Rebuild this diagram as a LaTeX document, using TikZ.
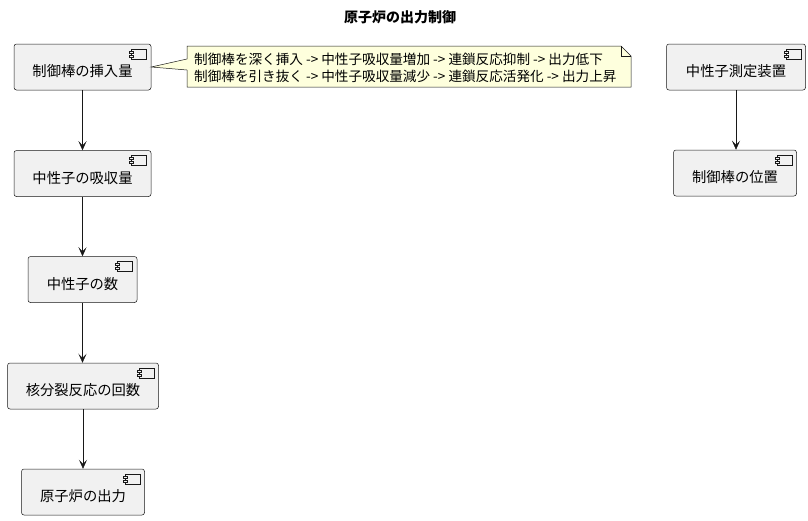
\documentclass[tikz,border=0pt]{standalone}
\usepackage{fontspec}
\setmainfont{Noto Sans CJK JP}
\usetikzlibrary{arrows.meta}
\definecolor{edge}{HTML}{181818}
\definecolor{compfill}{HTML}{F1F1F1}
\definecolor{notefill}{HTML}{FEFFDD}
\tikzset{
  comp/.style={draw=edge, fill=compfill, line width=0.5pt, rounded corners=2.5pt,
    minimum height=46pt, inner sep=0pt, text height=21pt, text depth=2pt,
    font=\fontsize{14.3}{16}\selectfont},
  arr/.style={draw=edge, line width=0.5pt, -{Stealth[length=9pt,width=8pt,inset=4pt]}},
  cicon/.pic={
    \draw[edge, fill=compfill, line width=0.5pt] (-20,5) rectangle (-5,15);
    \draw[edge, fill=compfill, line width=0.5pt] (-22,7) rectangle (-18,9);
    \draw[edge, fill=compfill, line width=0.5pt] (-22,11) rectangle (-18,13);
  },
  notetext/.style={anchor=west, inner sep=0pt, font=\fontsize{13.6}{15}\selectfont}
}
\begin{document}
\begin{tikzpicture}[x=1pt,y=-1pt]
\useasboundingbox[fill=white] (0,0) rectangle (808,520);
\node[font=\bfseries\fontsize{14}{16}\selectfont] (title) at (400,17) {原子炉の出力制御};

\node[comp, minimum width=137pt] (A) at (82.5,67) {制御棒の挿入量};
\node[comp, minimum width=137pt] (B) at (82.5,173.5) {中性子の吸収量};
\node[comp, minimum width=109pt] (C) at (82.5,279.5) {中性子の数};
\node[comp, minimum width=151pt] (D) at (83,386) {核分裂反応の回数};
\node[comp, minimum width=123pt] (E) at (83,492) {原子炉の出力};
\node[comp, minimum width=139pt] (F) at (736,67) {中性子測定装置};
\node[comp, minimum width=123pt] (G) at (735,173) {制御棒の位置};

\foreach \n in {A,B,C,D,E,F,G} { \pic at (\n.north east) {cicon}; }

\draw[arr] (A.south) -- (A.south |- B.north);
\draw[arr] (B.south) -- (B.south |- C.north);
\draw[arr] (C.south) -- (C.south |- D.north);
\draw[arr] (D.south) -- (D.south |- E.north);
\draw[arr] (F.south) -- (F.south |- G.north);

% note
\coordinate (ptr) at (A.east);
\draw[edge, fill=notefill, line width=0.5pt]
  (187,46) -- (621,46) -- (631,56) -- (631,87) -- (187,87) -- (187,70) -- (ptr) -- (187,59) -- cycle;
\draw[edge, line width=0.5pt] (621,46) -- (621,56) -- (631,56);
\node[notetext] (n1) at (194,59) {制御棒を深く挿入 -> 中性子吸収量増加 -> 連鎖反応抑制 -> 出力低下};
\node[notetext] (n2) at (194,76) {制御棒を引き抜く -> 中性子吸収量減少 -> 連鎖反応活発化 -> 出力上昇};
\end{tikzpicture}
\end{document}
